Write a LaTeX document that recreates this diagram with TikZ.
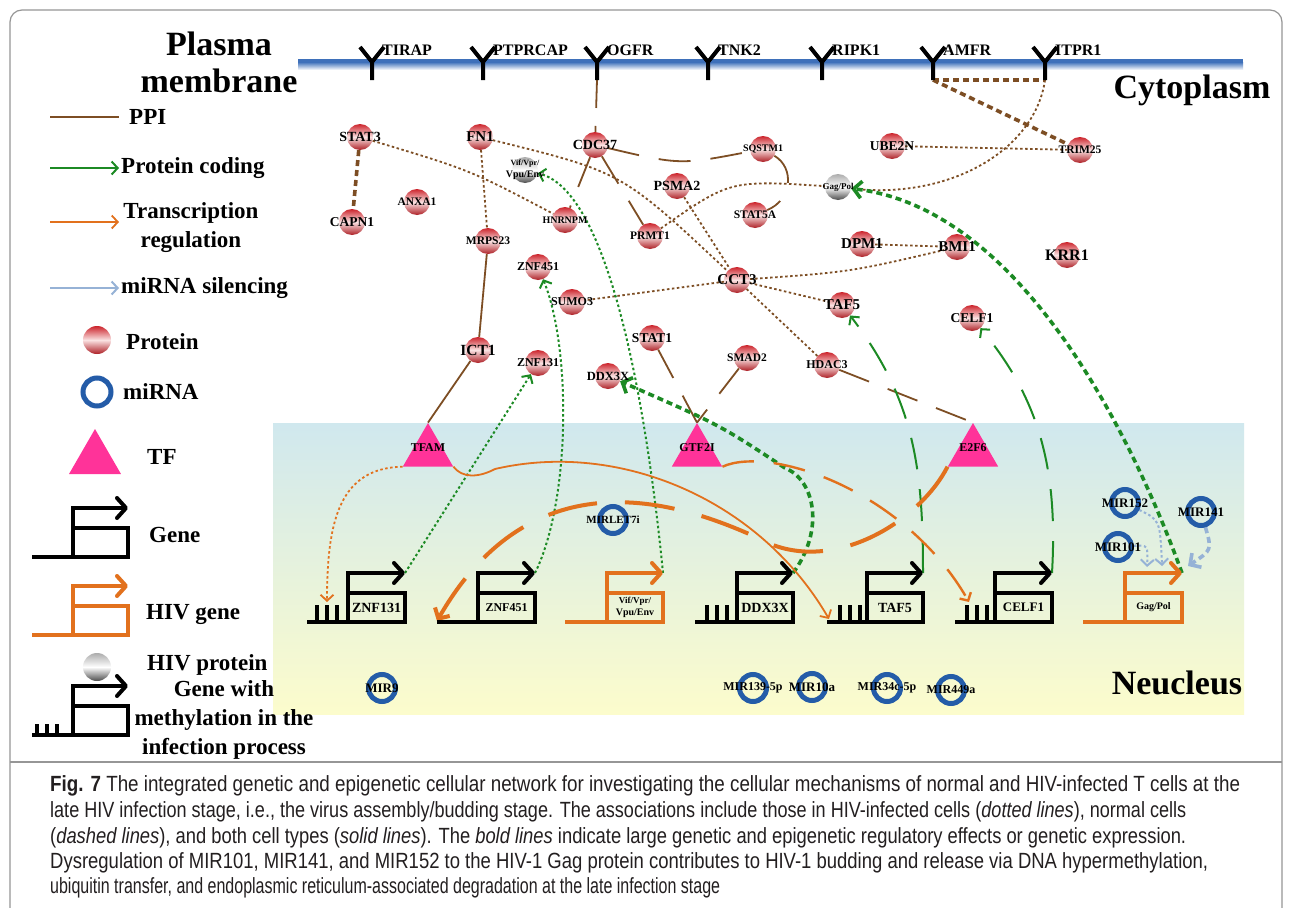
\documentclass[tikz,border=0pt]{standalone}
\usepackage{fontspec}
\usepackage{graphicx}
\setmainfont{Liberation Serif}
\newfontfamily\capfont{Liberation Sans}
\usetikzlibrary{arrows.meta,shapes.geometric}
\pgfdeclarelayer{back}
\pgfdeclarelayer{edges}
\pgfsetlayers{back,edges,main}
\newcommand{\myfs}[1]{\fontsize{#1bp}{#1bp}\selectfont}
\newsavebox{\capbox}
\newcommand{\capline}[2]{\sbox{\capbox}{\capfont\myfs{22}#2}\pgfmathsetmacro{\capsc}{#1*1.00375/\strip@pt\wd\capbox}\scalebox{\capsc}[1]{\usebox{\capbox}}}
\makeatletter
\renewcommand{\capline}[2]{\sbox{\capbox}{\capfont\myfs{22}#2}\pgfmathsetmacro{\capsc}{#1*1.00375/\strip@pt\wd\capbox}\scalebox{\capsc}[1]{\usebox{\capbox}}}
\makeatother
\definecolor{cBrn}{RGB}{125,78,36}
\definecolor{cGrn}{RGB}{28,138,36}
\definecolor{cOrg}{RGB}{226,113,29}
\definecolor{cLbl}{RGB}{150,178,214}
\definecolor{cMir}{RGB}{36,92,168}
\definecolor{cTF}{RGB}{255,51,153}
\definecolor{cProt}{RGB}{204,36,44}
\definecolor{cProtLt}{RGB}{250,226,226}
\definecolor{cMemb}{RGB}{62,112,186}
\definecolor{cNucB}{RGB}{208,232,238}
\definecolor{cNucY}{RGB}{252,252,204}
\definecolor{cFrame}{RGB}{150,150,150}
\definecolor{cCap}{RGB}{35,31,32}
\tikzset{
  prot/.style={circle, minimum size=26bp, inner sep=0pt, top color=cProt, bottom color=cProt!85!black, middle color=cProtLt},
  hivp/.style={circle, minimum size=26bp, inner sep=0pt, top color=gray!65, bottom color=gray!60!black, middle color=white},
  mirna/.style={circle, minimum size=27bp, inner sep=0pt, draw=cMir, line width=5bp},
  tfnode/.style={regular polygon, regular polygon sides=3, minimum size=58bp, inner sep=0pt, fill=cTF},
  plab/.style={inner sep=0pt, font=\bfseries, text=black},
  rlab/.style={inner sep=0pt, anchor=west, font=\fontsize{16bp}{16bp}\selectfont\bfseries},
  leg/.style={inner sep=0pt, font=\fontsize{23bp}{29bp}\selectfont\bfseries},
  big/.style={inner sep=0pt, font=\fontsize{34bp}{37bp}\selectfont\bfseries, align=center},
  glin/.style={line width=4bp, line cap=butt, line join=miter},
  garrow/.style={-{Straight Barb[length=9bp,width=20bp,round]}},
  ylin/.style={line width=4bp, line join=miter},
  ppi/.style={draw=cBrn, line width=1.8bp},
  pcode/.style={draw=cGrn, line width=2bp},
  treg/.style={draw=cOrg, line width=1.8bp},
  msil/.style={draw=cLbl, line width=2bp},
  hivdot/.style={dash pattern=on 2.5bp off 2.5bp},
  bolddot/.style={line width=3.6bp, dash pattern=on 6bp off 4bp},
  normdash/.style={dash pattern=on 32bp off 20bp},
  bolddash/.style={line width=4bp, dash pattern=on 50bp off 28bp},
  barb/.style={-{Straight Barb[length=6bp,width=13bp]}},
  barbL/.style={-{Straight Barb[length=8bp,width=17bp]}},
  caption/.style={inner sep=0pt, anchor=west, text=cCap}
}
\newcommand{\protn}[5]{\node[prot] (#1) at (#2,#3) {};\node[plab] (#1-l) at (#2,#3) {\myfs{#5}#4};}
\newcommand{\hivn}[5]{\node[hivp] (#1) at (#2,#3) {};\node[plab, align=center] (#1-l) at (#2,#3) {\fontsize{#5bp}{#5bp}\selectfont #4};}
\newcommand{\mirn}[5]{\node[mirna] (#1) at (#2,#3) {};\node[plab] (#1-l) at (#2,#3) {\myfs{#5}#4};}
\newcommand{\receptor}[3]{\draw[ylin] (#2-12,47) -- (#2,62) -- (#2+12,47) (#2,62) -- (#2,80);
  \coordinate (#1) at (#2,80);\node[rlab] (#1-l) at (#2+10,50) {#3};}
\newcommand{\geneglyph}[5]{%
  \draw[glin, draw=#1] (#2,#5) -- (#4,#5) -- (#4,#5-29) -- (#3,#5-29);
  \draw[glin, draw=#1, garrow] (#3,#5) -- (#3,#5-49) -- (#4,#5-49);}
\newcommand{\combticks}[5]{\draw[glin] (#1,#4) -- (#1,#4-#5) (#2,#4) -- (#2,#4-#5) (#3,#4) -- (#3,#4-#5);}
\begin{document}
\begin{tikzpicture}[x=1bp,y=-1bp]
\useasboundingbox (0,0) rectangle (1292,908);
\begin{pgfonlayer}{back}
\fill[white] (0,0) rectangle (1292,908);
\draw[cFrame, line width=1.2bp, rounded corners=12bp] (10,920) -- (10,10) -- (1282,10) -- (1282,920);
\draw[cFrame, line width=1.2bp] (10,762) -- (1282,762);
\shade[top color=cNucB, bottom color=cNucY] (273,423) rectangle (1244,714);
\shade[top color=cMemb, bottom color=white] (298,62) rectangle (1243,70);
\fill[cMemb] (298,58.5) rectangle (1243,63);
\end{pgfonlayer}

% titles
\node[big] (t-pm) at (219,62) {Plasma\\membrane};
\node[big] (t-cy) at (1192,90) {Cytoplasm};
\node[big] (t-nu) at (1177,683) {Neucleus};

% receptors
\receptor{tirap}{372}{TIRAP}
\receptor{ptprcap}{483}{PTPRCAP}
\receptor{ogfr}{597}{OGFR}
\receptor{tnk2}{708}{TNK2}
\receptor{ripk1}{822}{RIPK1}
\receptor{amfr}{933}{AMFR}
\receptor{itpr1}{1045}{ITPR1}

% proteins
\protn{stat3}{360}{137}{STAT3}{14}
\protn{fn1}{480}{137}{FN1}{15}
\protn{cdc37}{595}{145}{CDC37}{14}
\protn{sqstm1}{763}{149}{SQSTM1}{10}
\protn{psma2}{677}{186}{PSMA2}{14}
\protn{ube2n}{892}{146}{UBE2N}{13.5}
\protn{trim25}{1080}{150}{TRIM25}{11.5}
\protn{capn1}{352}{222}{CAPN1}{13.5}
\protn{anxa1}{417}{202}{ANXA1}{11.5}
\protn{hnrnpm}{565}{220}{HNRNPM}{10}
\protn{prmt1}{650}{236}{PRMT1}{11.5}
\protn{stat5a}{755}{215}{STAT5A}{11.5}
\protn{mrps23}{488}{241}{MRPS23}{11.5}
\protn{znf451p}{538}{267}{ZNF451}{12}
\protn{sumo3}{572}{302}{SUMO3}{12}
\protn{cct3}{737}{280}{CCT3}{15}
\protn{dpm1}{862}{244}{DPM1}{15}
\protn{bmi1}{957}{247}{BMI1}{15}
\protn{krr1}{1067}{255}{KRR1}{16}
\protn{taf5p}{842}{305}{TAF5}{15}
\protn{celf1p}{972}{318}{CELF1}{13.5}
\protn{ict1}{478}{350}{ICT1}{15.5}
\protn{znf131p}{538}{363}{ZNF131}{12}
\protn{stat1}{652}{338}{STAT1}{13.5}
\protn{ddx3xp}{608}{376}{DDX3X}{12.5}
\protn{smad2}{747}{358}{SMAD2}{11.5}
\protn{hdac3}{827}{365}{HDAC3}{12}
\hivn{vifp}{525}{170}{Vif/Vpr/\\Vpu/Env}{8}
\hivn{gagp}{838}{187}{Gag/Pol}{9}

% TFs
\node[tfnode] (tfam) at (428,452) {};
\node[plab] (tfam-l) at (428,448) {\myfs{12}TFAM};
\node[tfnode] (gtf2i) at (697,452) {};
\node[plab] (gtf2i-l) at (697,448) {\myfs{12}GTF2I};
\node[tfnode] (e2f6) at (973,452) {};
\node[plab] (e2f6-l) at (973,448) {\myfs{12}E2F6};

% genes
\geneglyph{black}{307}{348}{405}{622}
\combticks{317}{327}{337}{622}{17}
\node[plab] (znf131g) at (376.5,607.5) {\myfs{14}ZNF131};
\coordinate (znf131g-tip) at (405,573);
\coordinate (znf131g-comb) at (327,602);
\geneglyph{black}{437}{478}{535}{622}
\node[plab] (znf451g) at (506.5,607.5) {\myfs{12}ZNF451};
\coordinate (znf451g-tip) at (535,573);
\coordinate (znf451g-start) at (437,621);
\geneglyph{cOrg}{565}{607}{663}{622}
\node[plab, align=center] (vifg) at (635,607.5) {\fontsize{9bp}{10.5bp}\selectfont Vif/Vpr/\\Vpu/Env};
\coordinate (vifg-tip) at (663,573);
\geneglyph{black}{695}{737}{793}{622}
\combticks{707}{717}{727}{622}{17}
\node[plab] (ddx3xg) at (765,607.5) {\myfs{14}DDX3X};
\coordinate (ddx3xg-tip) at (793,573);
\geneglyph{black}{827}{867}{923}{622}
\combticks{840}{850}{860}{622}{17}
\node[plab] (taf5g) at (895,607.5) {\myfs{14}TAF5};
\coordinate (taf5g-tip) at (923,573);
\coordinate (taf5g-start) at (829,619);
\geneglyph{black}{955}{995}{1052}{622}
\combticks{967}{977}{987}{622}{17}
\node[plab] (celf1g) at (1023.5,607.5) {\myfs{13}CELF1};
\coordinate (celf1g-tip) at (1052,573);
\coordinate (celf1g-comb) at (969,602);
\geneglyph{cOrg}{1083}{1125}{1182}{622}
\node[plab] (gagg) at (1153.5,607.5) {\myfs{10}Gag/Pol};
\coordinate (gagg-tip) at (1182,573);
\coordinate (gag-m1) at (1162,566);
\coordinate (gag-m2) at (1147,567);
\coordinate (gag-m3) at (1188,566);

% miRNAs
\mirn{mirlet7i}{613}{520}{MIRLET7i}{11}
\mirn{mir9}{382}{688}{MIR9}{13}
\mirn{mir139}{753}{688}{MIR139-5p}{12}
\mirn{mir10a}{812}{687}{MIR10a}{13}
\mirn{mir34c}{887}{688}{MIR34c-5p}{12}
\mirn{mir449a}{951}{690}{MIR449a}{12}
\mirn{mir152}{1125}{503}{MIR152}{13}
\mirn{mir141}{1201}{512}{MIR141}{13}
\mirn{mir101}{1118}{547}{MIR101}{13}

% edges
\begin{pgfonlayer}{edges}
% PPI
\draw[ppi, dash pattern=on 28bp off 18bp] (ogfr) -- (cdc37);
\draw[ppi, bolddot] (stat3) -- (capn1);
\draw[ppi, hivdot] (stat3) .. controls (470,170) .. (hnrnpm);
\draw[ppi, hivdot] (fn1) -- (mrps23);
\draw[ppi, hivdot] (fn1) .. controls (622,172) .. (cct3);
\draw[ppi, normdash] (cdc37) .. controls (680,165) .. (sqstm1);
\draw[ppi, normdash] (cdc37) -- (hnrnpm);
\draw[ppi, normdash] (cdc37) -- (prmt1);
\draw[ppi, normdash] (sqstm1) .. controls (795,168) and (792,200) .. (stat5a);
\draw[ppi, hivdot] (prmt1) .. controls (730,180) .. (gagp);
\draw[ppi, hivdot] (psma2) -- (cct3);
\draw[ppi, hivdot] (cct3) -- (sumo3);
\draw[ppi, hivdot] (cct3) .. controls (850,272) .. (bmi1);
\draw[ppi, hivdot] (cct3) -- (taf5p);
\draw[ppi, hivdot] (cct3) -- (hdac3);
\draw[ppi, hivdot] (dpm1) -- (bmi1);
\draw[ppi, hivdot] (ube2n) -- (trim25);
\draw[ppi, bolddot] (amfr) -- (itpr1);
\draw[ppi, bolddot] (amfr) -- (trim25);
\draw[ppi, hivdot] (itpr1) .. controls (1035,150) and (950,200) .. (gagp);
\draw[ppi] (mrps23) -- (ict1);
\draw[ppi] (ict1) -- (tfam.corner 1);
\draw[ppi, normdash] (stat1) -- (gtf2i.corner 1);
\draw[ppi, normdash] (smad2) -- (gtf2i.corner 1);
\draw[ppi, normdash] (hdac3) -- (e2f6.corner 1);
% protein coding
\draw[pcode, hivdot, barb] (znf131g-tip) -- (znf131p);
\draw[pcode, hivdot, barb] (znf451g-tip) .. controls (571,500) and (571,347) .. (znf451p);
\draw[pcode, hivdot, barb] (vifg-tip) .. controls (650,440) and (615,193) .. (vifp);
\draw[pcode, bolddot, barbL] (ddx3xg-tip) .. controls (825,530) and (815,480) .. (785,468) .. controls (720,425) .. (ddx3xp);
\draw[pcode, normdash, barb] (taf5g-tip) .. controls (923,470) and (915,400) .. (taf5p);
\draw[pcode, normdash, barb] (celf1g-tip) .. controls (1058,470) and (1040,400) .. (celf1p);
\draw[pcode, bolddot, barbL] (gagg-tip) .. controls (1130,430) and (1019,208) .. (gagp);
% transcription regulation
\draw[treg, hivdot, barb] (tfam.corner 2) .. controls (340,468) and (327,520) .. (znf131g-comb);
\draw[treg, barb] (tfam.corner 3) .. controls (462,478) and (478,478) .. (495,469) .. controls (620,440) and (760,500) .. (taf5g-start);
\draw[treg, normdash, line width=2.4bp, barb] (gtf2i.corner 3) .. controls (770,445) and (905,490) .. (celf1g-comb);
\draw[treg, bolddash, barbL] (e2f6.corner 2) .. controls (920,520) and (840,570) .. (773,545) .. controls (700,510) and (540,442) .. (znf451g-start);
% miRNA silencing
\draw[msil, hivdot, barb] (mir152) .. controls (1160,520) .. (gag-m1);
\draw[msil, hivdot, barb] (mir101) .. controls (1148,545) .. (gag-m2);
\draw[msil, bolddot, barbL] (mir141) .. controls (1212,550) .. (gag-m3);
\end{pgfonlayer}

% legend
\draw[ppi] (50,117) -- (119,117);
\node[leg, anchor=west] (lg-ppi) at (129,117) {PPI};
\draw[pcode, barb] (50,168) -- (119,168);
\node[leg, anchor=west] (lg-pc) at (121,168) {Protein coding};
\draw[treg, barb] (50,222) -- (119,222);
\node[leg, align=center] (lg-tr) at (191,228) {Transcription\\regulation};
\draw[msil, barb] (50,288) -- (119,288);
\node[leg, anchor=west] (lg-ms) at (121,288) {miRNA silencing};
\node[prot, minimum size=28bp] (lg-prot) at (97,340) {};
\node[leg, anchor=west] (lg-prot-l) at (126,342) {Protein};
\node[mirna, minimum size=28bp] (lg-mir) at (97,392) {};
\node[leg, anchor=west] (lg-mir-l) at (123,392) {miRNA};
\node[tfnode, minimum size=60bp] (lg-tf) at (95,459) {};
\node[leg, anchor=west] (lg-tf-l) at (147,457) {TF};
\geneglyph{black}{32}{73}{128}{557}
\node[leg, anchor=west] (lg-gene) at (149,535) {Gene};
\geneglyph{cOrg}{32}{73}{128}{635}
\node[leg, anchor=west] (lg-hivg) at (146,615) {HIV gene};
\node[hivp, minimum size=28bp] (lg-hivp) at (97,667) {};
\node[leg, anchor=west] (lg-hivp-l) at (147,665) {HIV protein};
\geneglyph{black}{32}{73}{128}{735}
\combticks{37}{47}{57}{735}{11}
\node[leg, align=center] (lg-meth) at (224,720) {Gene with\\methylation in the\\infection process};

% caption
\node[caption] (cap1) at (50,786) {\capline{1190}{\textbf{Fig. 7} The integrated genetic and epigenetic cellular network for investigating the cellular mechanisms of normal and HIV-infected T cells at the}};
\node[caption] (cap2) at (50,812) {\capline{1136}{late HIV infection stage, i.e., the virus assembly/budding stage. The associations include those in HIV-infected cells (\textit{dotted lines}), normal cells}};
\node[caption] (cap3) at (50,838) {\capline{1136}{(\textit{dashed lines}), and both cell types (\textit{solid lines}). The \textit{bold lines} indicate large genetic and epigenetic regulatory effects or genetic expression.}};
\node[caption] (cap4) at (50,863) {\capline{1158}{Dysregulation of MIR101, MIR141, and MIR152 to the HIV-1 Gag protein contributes to HIV-1 budding and release via DNA hypermethylation,}};
\node[caption] (cap5) at (50,888) {\capline{670}{ubiquitin transfer, and endoplasmic reticulum-associated degradation at the late infection stage}};
\end{tikzpicture}
\end{document}
